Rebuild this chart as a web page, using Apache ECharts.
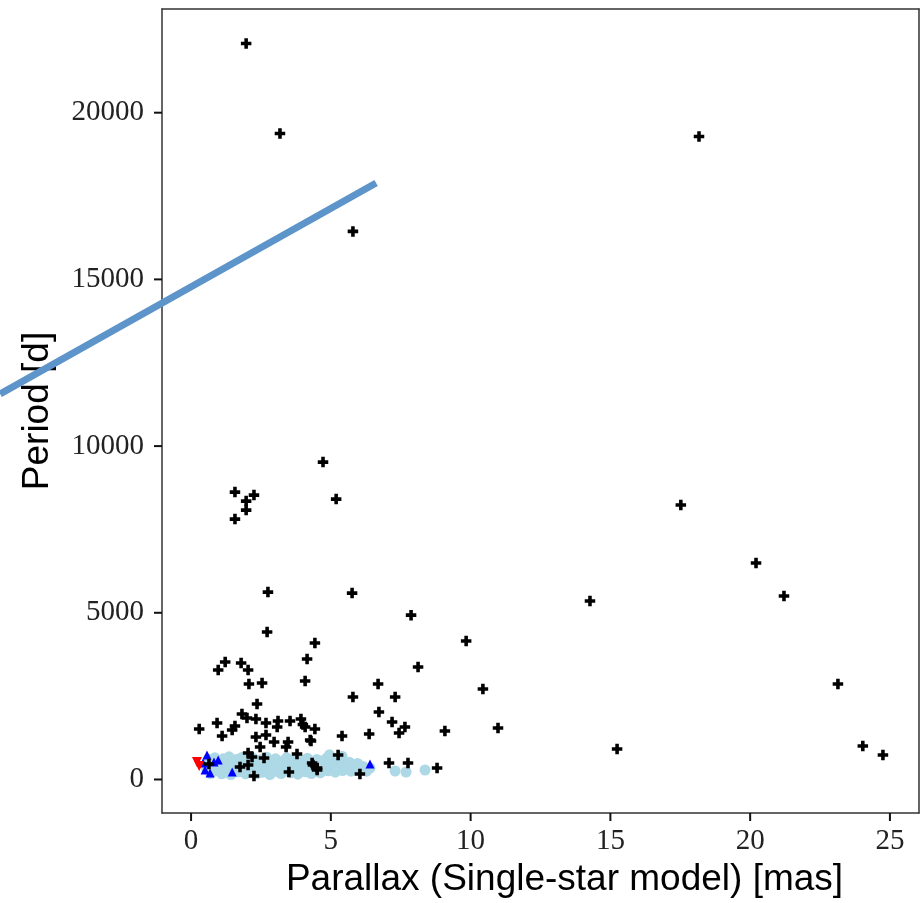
<!DOCTYPE html>
<html>
<head>
<meta charset="utf-8">
<script src="https://cdn.jsdelivr.net/npm/echarts@6/dist/echarts.min.js"></script>
<style>
html,body{margin:0;padding:0;background:#fff;}
#chart{width:921px;height:903px;}
</style>
</head>
<body>
<div id="chart"></div>
<script>
// Tick values
const xTicks = [0, 5, 10, 15, 20, 25];
const yTicks = [0, 5000, 10000, 15000, 20000];

// Black plus markers: [parallax (mas), period (d)]
const blackPlus = [
  [1.97,22075],[3.18,19375],[18.17,19285],[5.79,16440],
  [4.72,9520],[5.19,8410],[1.57,8620],[2.25,8530],[1.97,8350],[1.97,8080],[1.57,7810],[17.52,8235],
  [2.75,5620],[5.76,5590],[7.87,4930],[2.72,4425],[4.43,4095],[9.84,4155],[4.15,3615],[1.22,3525],
  [0.97,3285],[1.79,3495],[2.04,3285],[2.07,2865],[2.54,2895],[4.08,2955],[8.12,3375],[6.69,2865],
  [7.30,2475],[5.79,2475],[10.44,2715],[10.98,1545],[14.27,5355],[15.24,915],[20.21,6495],[21.21,5505],
  [23.14,2865],[24.03,1005],[24.75,735],
  [6.72,2025],[7.19,1725],[7.65,1575],[7.44,1395],[9.08,1455],[6.37,1365],[5.40,1305],[4.43,1515],
  [4.29,1155],[5.26,735],[4.33,495],[4.51,345],[6.04,165],[7.08,495],[7.76,495],[8.80,345],
  [2.36,2265],[1.82,1965],[2.00,1845],[2.32,1815],[2.68,1695],[3.11,1755],[3.54,1755],[3.93,1815],
  [4.08,1575],[0.29,1515],[0.93,1695],[1.57,1605],[1.47,1485],[1.11,1305],[3.08,1575],[2.32,1275],
  [2.68,1335],[2.97,1125],[2.47,975],[3.47,1125],[3.40,975],[4.26,1185],[2.04,795],[2.18,675],
  [2.61,645],[3.79,765],[0.64,465],[1.75,375],[2.04,435],[4.36,435],[3.50,225],[2.25,105],[4.51,285],
  [4.00,1650]
];

// Light blue circles
const lightBlue = [
  [0.55,320],[0.62,610],[0.70,180],[0.78,450],[0.85,650],[0.90,260],[0.98,540],[1.05,380],[1.10,170],
  [1.15,620],[1.22,470],[1.30,290],[1.36,680],[1.42,150],[1.50,520],[1.55,360],[1.62,600],[1.70,230],
  [1.75,440],[1.82,660],[1.90,310],[1.95,170],[2.02,560],[2.10,400],[2.15,250],[2.22,640],[2.30,480],
  [2.36,180],[2.42,340],[2.50,590],[2.56,220],[2.62,430],[2.70,670],[2.76,300],[2.82,150],[2.90,520],
  [2.96,380],[3.02,620],[3.10,240],[3.16,460],[3.22,180],[3.30,560],[3.36,330],[3.42,650],[3.50,410],
  [3.56,200],[3.62,500],[3.70,290],[3.76,600],[3.82,160],[3.90,440],[3.96,350],[4.02,560],[4.10,230],
  [4.16,640],[4.22,400],[4.30,180],[4.36,520],[4.42,300],[4.50,600],[4.56,420],[4.62,200],[4.70,510],
  [4.76,330],[4.82,620],[4.90,260],[4.95,740],[4.96,450],[5.02,560],[5.10,340],[5.16,220],[5.22,480],
  [5.30,380],[5.36,600],[5.40,700],[5.42,270],[5.50,430],[5.58,340],[5.66,520],[5.72,250],[5.80,400],
  [5.88,320],[5.96,480],[6.04,285],[6.15,390],[6.28,250],[6.40,345],[7.30,255],[7.69,225],[8.37,285]
];

// Blue up-triangles
const blueTri = [[0.57,735],[0.43,495],[0.97,585],[0.68,195],[0.82,525],[0.50,285],[1.47,225],[6.40,465]];

// Red down-triangles
const redTri = [[0.21,525],[0.29,405]];

// Overlay line (data coordinates)
const overlayLine = [[-6.83,11563],[6.62,17892]];

const X_MIN = -1.04, X_MAX = 26.04, Y_MIN = -1005, Y_MAX = 23110;
const TICK_LEN = 8;
const plusPath = 'path://M3.3,0H6.7V3.3H10V6.7H6.7V10H3.3V6.7H0V3.3H3.3Z';
const tickFont = {fontFamily:'Liberation Serif', fontSize:29, color:'#222'};
const plain = v => String(v);
const lineSt = {color:'#333', width:1.5};
const tickStyle = {stroke:'#111', lineWidth:2, fill:null};

const chart = echarts.init(document.getElementById('chart'));
chart.setOption({
  animation:false,
  grid:{left:162, top:9, right:2, bottom:90},
  xAxis:[{
    type:'value', min:X_MIN, max:X_MAX, position:'bottom',
    splitLine:{show:false},
    axisLine:{show:true, onZero:false, lineStyle:lineSt},
    axisTick:{show:false},
    axisLabel:{...tickFont, margin:14, customValues:xTicks, formatter:plain},
    name:'Parallax (Single-star model) [mas]', nameLocation:'middle', nameGap:46,
    nameTextStyle:{fontFamily:'Liberation Sans', fontSize:37, color:'#000', padding:[0,0,0,48]}
  },{
    type:'value', min:X_MIN, max:X_MAX, position:'top',
    splitLine:{show:false}, axisTick:{show:false}, axisLabel:{show:false},
    axisLine:{show:true, onZero:false, lineStyle:lineSt}
  }],
  yAxis:[{
    type:'value', min:Y_MIN, max:Y_MAX, position:'left',
    splitLine:{show:false},
    axisLine:{show:true, onZero:false, lineStyle:lineSt},
    axisTick:{show:false},
    axisLabel:{...tickFont, margin:18, customValues:yTicks, formatter:plain},
    name:'Period [d]', nameLocation:'middle', nameGap:106,
    nameTextStyle:{fontFamily:'Liberation Sans', fontSize:37, color:'#000'}
  },{
    type:'value', min:Y_MIN, max:Y_MAX, position:'right',
    splitLine:{show:false}, axisTick:{show:false}, axisLabel:{show:false},
    axisLine:{show:true, onZero:false, lineStyle:lineSt}
  }],
  series:[
    {type:'scatter', data:lightBlue, symbol:'circle', symbolSize:11, itemStyle:{color:'#add8e6', opacity:1}, z:2},
    {type:'scatter', data:blueTri, symbol:'triangle', symbolSize:9, itemStyle:{color:'#0000ff', opacity:1}, z:3},
    {type:'scatter', data:redTri, symbol:'triangle', symbolRotate:180, symbolSize:10, itemStyle:{color:'#ff0000', opacity:1}, z:4},
    {type:'scatter', data:blackPlus, symbol:plusPath, symbolSize:10.5, itemStyle:{color:'#000', opacity:1}, z:5},
    {
      type:'custom', clip:false, z:6, silent:true,
      data:[0],
      renderItem:function(params, api){
        const p0 = api.coord(overlayLine[0]);
        const p1 = api.coord(overlayLine[1]);
        return {type:'line', shape:{x1:p0[0], y1:p0[1], x2:p1[0], y2:p1[1]},
                style:{stroke:'#5d94c9', lineWidth:7, lineCap:'butt'}};
      }
    },
    { // tick marks for both axes, placed through the axis scales
      type:'custom', clip:false, z:7, silent:true,
      data:[0],
      renderItem:function(params, api){
        const children = [];
        xTicks.forEach(function(v){
          const p = api.coord([v, Y_MIN]);
          children.push({type:'line', shape:{x1:p[0], y1:p[1], x2:p[0], y2:p[1] + TICK_LEN}, style:tickStyle});
        });
        yTicks.forEach(function(v){
          const p = api.coord([X_MIN, v]);
          children.push({type:'line', shape:{x1:p[0] - TICK_LEN, y1:p[1], x2:p[0], y2:p[1]}, style:tickStyle});
        });
        return {type:'group', children:children};
      }
    }
  ]
});
</script>
</body>
</html>
